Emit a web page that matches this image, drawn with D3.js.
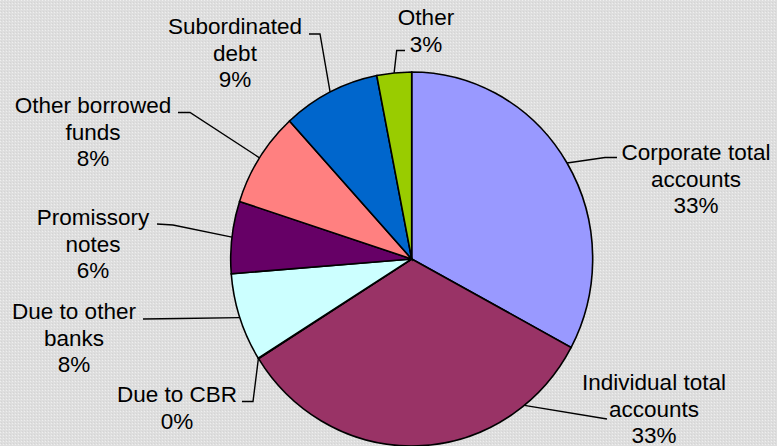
<!DOCTYPE html>
<meta charset="utf-8">
<style type="text/css">
body {
  margin: 0;
  font-family: "Liberation Sans", Arial, sans-serif;
}

.slice {
  stroke: #000;
  stroke-width: 1.6px;
  vector-effect: non-scaling-stroke;
}

.leader {
  fill: none;
  stroke: #000;
  stroke-width: 1.4px;
}

.label text {
  font-size: 22.5px;
  fill: #000;
}
</style>
<body>
</body>

<script src="https://cdn.jsdelivr.net/npm/d3@7"></script>
<script>
// shares of liabilities, clockwise from 12 o'clock
var categories = [
  ["Corporate total", "accounts"],
  ["Individual total", "accounts"],
  ["Due to CBR"],
  ["Due to other", "banks"],
  ["Promissory", "notes"],
  ["Other borrowed", "funds"],
  ["Subordinated", "debt"],
  ["Other"]
];
var values = [32.85, 33.23, 0.05, 7.64, 6.25, 8.23, 8.69, 3.1];
var colors = ["#9999ff", "#993366", "#ffffcc", "#ccffff", "#660066", "#ff8080", "#0066cc", "#99cc00"];

// label layout: text centre x, first baseline y, leader elbow and end
// (angle: where the leader leaves the pie, if not the slice middle)
var labelPos = [
  { x: 696, y: 160, elbow: [605, 157.5], end: [617, 157.5] },
  { x: 654, y: 390, elbow: null, end: [607, 419], angle: 141.5 },
  { x: 177, y: 402, elbow: [253, 401.5], end: [242, 401.5] },
  { x: 74,  y: 319, elbow: [180, 318.5], end: [143, 319] },
  { x: 93,  y: 225, elbow: [173, 225], end: [157, 224] },
  { x: 93,  y: 113, elbow: [190, 112.5], end: [178, 112.5] },
  { x: 235, y: 34,  elbow: [320, 34], end: [309, 34] },
  { x: 426, y: 25,  elbow: [396.7, 50.5], end: [405, 50.5] }
];

var width = 777, height = 446;
var cx = 411.7, cy = 259, rx = 181, ry = 187;

var svg = d3.select("body")
  .append("svg")
    .attr("width", width)
    .attr("height", height);

var pat = svg.append("defs").append("pattern")
  .attr("id", "bg")
  .attr("width", 3).attr("height", 3)
  .attr("patternUnits", "userSpaceOnUse");
pat.append("rect").attr("width", 3).attr("height", 3).attr("fill", "#dedede");
pat.append("rect").attr("x", 0).attr("y", 0).attr("width", 1).attr("height", 1).attr("fill", "#eeeeee");
pat.append("rect").attr("x", 1).attr("y", 2).attr("width", 1).attr("height", 1).attr("fill", "#d4d4d4");

svg.append("rect")
  .attr("width", width)
  .attr("height", height)
  .attr("fill", "url(#bg)");

var pie = d3.pie().sort(null).value(function(d) { return d; });
var arcs = pie(values);

var arc = d3.arc().innerRadius(0).outerRadius(1);

var g = svg.append("g")
  .attr("transform", "translate(" + cx + "," + cy + ") scale(" + rx + "," + ry + ")");

g.selectAll("path.slice")
  .data(arcs)
  .enter().append("path")
  .attr("class", "slice")
  .attr("d", arc)
  .style("fill", function(d, i) { return colors[i]; });

var total = d3.sum(values);

function edgePoint(d, i) {
  var a = labelPos[i].angle != null ? labelPos[i].angle * Math.PI / 180
                                    : (d.startAngle + d.endAngle) / 2;
  return [cx + rx * Math.sin(a), cy - ry * Math.cos(a)];
}

svg.selectAll("path.leader")
  .data(arcs)
  .enter().append("path")
  .attr("class", "leader")
  .attr("d", function(d, i) {
    var p = labelPos[i];
    var pts = [edgePoint(d, i)];
    if (p.elbow) pts.push(p.elbow);
    pts.push(p.end);
    return d3.line()(pts);
  });

var labels = svg.selectAll("g.label")
  .data(arcs)
  .enter().append("g")
  .attr("class", "label");

labels.each(function(d, i) {
  var p = labelPos[i];
  var lines = categories[i].concat([Math.round(d.value / total * 100) + "%"]);
  d3.select(this).selectAll("text")
    .data(lines)
    .enter().append("text")
    .attr("x", p.x)
    .attr("y", function(t, j) { return p.y + j * 26.5; })
    .attr("text-anchor", "middle")
    .text(function(t) { return t; });
});
</script>
